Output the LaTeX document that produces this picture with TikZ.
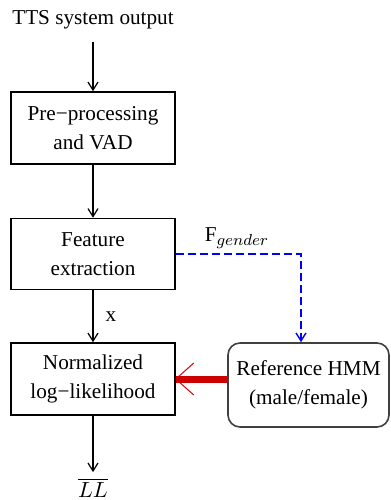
\documentclass[tikz,border=0pt]{standalone}
\usepackage{fontspec}
\setmainfont{Liberation Serif}
\usetikzlibrary{arrows.meta,calc}
\begin{document}
\begin{tikzpicture}[x=0.5pt,y=-0.5pt,
  font=\fontsize{10.6}{14.5}\selectfont,
  blk/.style={draw,line width=0.8pt,minimum width=82pt,align=center,inner sep=0pt},
  rbox/.style={draw=black!75,line width=0.8pt,rounded corners=6pt,minimum width=80.5pt,minimum height=42pt,align=center,inner sep=0pt},
  arr/.style={line width=0.6pt,-{Straight Barb[length=4pt,width=5pt,line width=0.6pt]}},
  darr/.style={color=blue,line width=0.8pt,dash pattern=on 4pt off 2pt,-{Straight Barb[length=4pt,width=5pt,line width=0.7pt]}},
  lbl/.style={inner sep=0pt}]
\useasboundingbox (0,0) rectangle (391,500);
\node[lbl] (tts) at (93,20) {TTS system output};
\node[blk,minimum height=36pt] (pre) at (93,128) {Pre−processing\\and VAD};
\node[blk,minimum height=35.5pt] (feat) at (93,254) {Feature\\extraction};
\node[blk,minimum height=36pt] (norm) at (93,379) {Normalized\\log−likelihood};
\node[rbox] (hmm) at (308.5,385) {Reference HMM\\(male/female)};
\node[lbl] (ll) at (93,488) {$\overline{LL}$};
\node[lbl] (xl) at (111,317) {x};
\node[lbl] (fg) at (237,238) {$\mathrm{F}_{\mbox{\fontsize{8.5}{10}\selectfont$gender$}}$};
\draw[arr] ([yshift=-6pt]tts.south) -- (pre.north);
\draw[arr] (pre.south) -- (feat.north);
\draw[arr] (feat.south) -- (norm.north);
\draw[arr] (norm.south) -- ([yshift=3pt]ll.north);
\draw[darr] (feat.east) -| ([xshift=-3.75pt]hmm.north);
\draw[red!80!black,line width=3.5pt] (hmm.west |- norm.east) -- (norm.east);
\draw[red!85!black,line width=0.5pt] ($(norm.east)+(18,-16)$) -- (norm.east) -- ($(norm.east)+(18,16)$);
\end{tikzpicture}
\end{document}
